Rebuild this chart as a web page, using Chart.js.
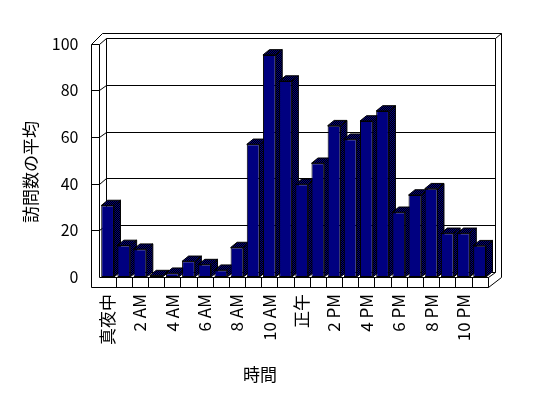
<!DOCTYPE html>
<html>
<head>
<meta charset="utf-8">
<script src="https://cdn.jsdelivr.net/npm/chart.js@4.4.0/dist/chart.umd.min.js"></script>
<style>
  html, body { margin: 0; padding: 0; background: #fff; }
  #wrap { width: 548px; height: 398px; }
</style>
</head>
<body>
<div id="wrap"><canvas id="chart" width="548" height="398"></canvas></div>
<script>
// hour categories (only every second one is shown as a tick label)
const hours = [
  '真夜中', '1 AM', '2 AM', '3 AM', '4 AM', '5 AM', '6 AM', '7 AM', '8 AM', '9 AM', '10 AM', '11 AM',
  '正午', '1 PM', '2 PM', '3 PM', '4 PM', '5 PM', '6 PM', '7 PM', '8 PM', '9 PM', '10 PM', '11 PM'
];
const visits = [
  30.6, 13.5, 11.9, 0.6, 1.6, 6.7, 5.3, 2.9, 12.6, 56.8, 95.1, 83.9,
  39.7, 48.7, 64.8, 59.0, 66.8, 71.1, 27.7, 35.1, 37.8, 18.7, 18.7, 13.4
];
const yTicks = [0, 20, 40, 60, 80, 100];
const yTitle = '訪問数の平均';
const xTitle = '時間';

const NAVY = '#000080';
const FONT = "'Noto Sans CJK JP', 'Liberation Sans', sans-serif";
// depth of the 3d box
const DX = 6.5, DY = -5.3;

Chart.defaults.font.family = FONT;
Chart.defaults.color = '#000';

function ditherPattern(ctx) {
  const c = document.createElement('canvas');
  c.width = 2; c.height = 2;
  const g = c.getContext('2d');
  g.fillStyle = '#000';
  g.fillRect(0, 0, 2, 2);
  g.fillStyle = NAVY;
  g.fillRect(0, 0, 1, 1);
  g.fillRect(1, 1, 1, 1);
  return ctx.createPattern(c, 'repeat');
}

const snap = v => Math.round(v) + 0.5;

function seg(ctx, x1, y1, x2, y2) {
  ctx.beginPath();
  ctx.moveTo(snap(x1), snap(y1));
  ctx.lineTo(snap(x2), snap(y2));
  ctx.stroke();
}

function poly(ctx, pts, fill) {
  ctx.beginPath();
  ctx.moveTo(pts[0][0], pts[0][1]);
  for (let i = 1; i < pts.length; i++) ctx.lineTo(pts[i][0], pts[i][1]);
  ctx.closePath();
  if (fill) {
    ctx.fillStyle = fill;
    ctx.fill();
  }
  ctx.stroke();
}

const box3d = {
  id: 'box3d',
  beforeDraw(chart) {
    const ctx = chart.ctx;
    ctx.save();
    ctx.fillStyle = '#fff';
    ctx.fillRect(0, 0, chart.width, chart.height);
    ctx.restore();
  },
  beforeDatasetsDraw(chart) {
    const { ctx, chartArea: a, scales: { y } } = chart;
    const L = a.left, R = a.right, T = a.top, B = a.bottom;
    const wallL = L - 8.7, wallR = L - 1;
    const backR = R + 7.5, outR = R + 13, outT = T - 10.8;
    ctx.save();
    ctx.strokeStyle = '#000';
    ctx.lineWidth = 1;

    // back wall
    seg(ctx, L + DX, T + DY, backR, T + DY);
    seg(ctx, L + DX, T + DY, L + DX, B + DY);
    seg(ctx, backR, T + DY, backR, B + DY);
    seg(ctx, L + DX, B + DY, backR, B + DY);
    // wall thickness on top and right
    seg(ctx, L + 2.3, outT, outR, outT);
    seg(ctx, backR, T + DY, outR, outT);
    seg(ctx, outR, outT, outR, B);
    // left wall
    seg(ctx, wallL, T, wallL, B + 10);
    seg(ctx, wallR, T, wallR, B);
    seg(ctx, wallL, T, wallR, T);
    seg(ctx, wallL, T, L + 2.3, outT);
    seg(ctx, wallR, T, L + DX, T + DY);

    // gridlines: back wall, left wall, and tick across the wall face
    yTicks.forEach(v => {
      if (v === 0 || v === 100) return;
      const yf = y.getPixelForValue(v);
      seg(ctx, L + DX, yf + DY, backR, yf + DY);
      seg(ctx, wallR, yf, L + DX, yf + DY);
      seg(ctx, wallL, yf, wallR, yf);
    });

    // floor
    seg(ctx, wallR, B, R, B);
    seg(ctx, wallL, B + 10, R, B + 10);
    seg(ctx, R, B, R, B + 10);
    seg(ctx, R, B + 10, outR, B);
    seg(ctx, R, B, backR, B + DY);
    const w = (R - L) / hours.length;
    for (let i = 1; i < hours.length; i++) {
      seg(ctx, L + i * w, B, L + i * w, B + 10);
    }

    // bar side and top faces
    const pat = ditherPattern(ctx);
    chart.getDatasetMeta(0).data.forEach(bar => {
      const p = bar.getProps(['x', 'y', 'base', 'width'], true);
      const l = p.x - p.width / 2, r = p.x + p.width / 2;
      poly(ctx, [[r, p.y], [r + DX, p.y + DY], [r + DX, p.base + DY], [r, p.base]], pat);
      poly(ctx, [[l, p.y], [l + DX, p.y + DY], [r + DX, p.y + DY], [r, p.y]], pat);
    });
    ctx.restore();
  },
  afterDraw(chart) {
    const ctx = chart.ctx;
    ctx.save();
    ctx.fillStyle = '#000';
    ctx.font = '17px ' + FONT;
    ctx.textAlign = 'center';
    ctx.textBaseline = 'middle';
    ctx.fillText(xTitle, 260, 375);
    ctx.translate(31, 172);
    ctx.rotate(-Math.PI / 2);
    ctx.fillText(yTitle, 0, 0);
    ctx.restore();
  }
};

new Chart(document.getElementById('chart'), {
  type: 'bar',
  data: {
    labels: hours,
    datasets: [{
      label: yTitle,
      data: visits,
      backgroundColor: NAVY,
      borderColor: '#000',
      borderWidth: 1,
      borderSkipped: false,
      barPercentage: 0.79,
      categoryPercentage: 1.0
    }]
  },
  options: {
    responsive: false,
    animation: false,
    layout: { padding: { left: 0, top: 43.5, right: 60.3, bottom: 0 } },
    plugins: {
      legend: { display: false },
      tooltip: { enabled: false }
    },
    scales: {
      x: {
        grid: { display: false, drawTicks: false },
        border: { display: false },
        ticks: {
          autoSkip: false,
          minRotation: 90,
          maxRotation: 90,
          padding: 17,
          font: { size: 17 },
          callback: function (value, index) {
            return index % 2 === 0 ? hours[index] : '';
          }
        },
        afterFit: function (scale) { scale.height = 121; }
      },
      y: {
        min: 0,
        max: 100,
        grid: { display: false, drawTicks: false },
        border: { display: false },
        ticks: { stepSize: 20, padding: 21, font: { size: 16 } },
        afterFit: function (scale) { scale.width = 99.5; }
      }
    }
  },
  plugins: [box3d]
});
</script>
</body>
</html>
